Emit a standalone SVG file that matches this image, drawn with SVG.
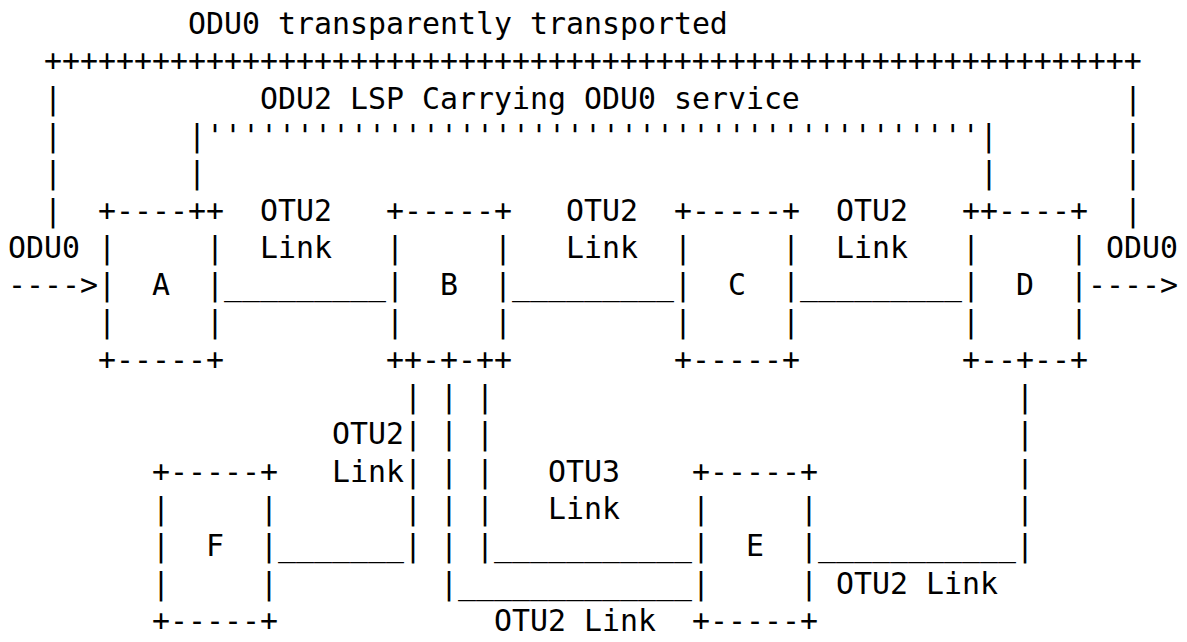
<svg xmlns="http://www.w3.org/2000/svg" width="1187" height="642" viewBox="0 0 1187 642">
<style>
text{font-family:"DejaVu Sans Mono","Liberation Mono",monospace;font-size:29.9px;fill:#000;white-space:pre}
</style>
<rect width="1187" height="642" fill="#fff"/>
<g id="title">
<text x="188" y="34">ODU0 transparently transported</text>
</g>
<g id="connectors">
<text x="44" y="71.3">+++++++++++++++++++++++++++++++++++++++++++++++++++++++++++++</text>
<text x="44" y="108.6">|</text><text x="1124" y="108.6">|</text>
<text x="260" y="108.6">ODU2 LSP Carrying ODU0 service</text>
<text x="44" y="145.9">|</text><text x="188" y="145.9">|'''''''''''''''''''''''''''''''''''''''''''|</text><text x="1124" y="145.9">|</text>
<text x="44" y="183.2">|</text><text x="188" y="183.2">|</text><text x="980" y="183.2">|</text><text x="1124" y="183.2">|</text>
<text x="44" y="220.5">|</text><text x="1124" y="220.5">|</text>
<text x="260" y="220.5">OTU2</text><text x="566" y="220.5">OTU2</text><text x="836" y="220.5">OTU2</text>
<text x="8" y="257.8">ODU0</text><text x="1106" y="257.8">ODU0</text>
<text x="260" y="257.8">Link</text><text x="566" y="257.8">Link</text><text x="836" y="257.8">Link</text>
<text x="8" y="295.1">----&gt;</text><text x="224" y="295.1">_________</text><text x="512" y="295.1">_________</text><text x="800" y="295.1">_________</text><text x="1088" y="295.1">----&gt;</text>
<text x="404" y="407">|</text><text x="440" y="407">|</text><text x="476" y="407">|</text><text x="1016" y="407">|</text>
<text x="332" y="444.3">OTU2|</text><text x="440" y="444.3">|</text><text x="476" y="444.3">|</text><text x="1016" y="444.3">|</text>
<text x="332" y="481.6">Link|</text><text x="440" y="481.6">|</text><text x="476" y="481.6">|</text><text x="548" y="481.6">OTU3</text><text x="1016" y="481.6">|</text>
<text x="404" y="518.9">|</text><text x="440" y="518.9">|</text><text x="476" y="518.9">|</text><text x="548" y="518.9">Link</text><text x="1016" y="518.9">|</text>
<text x="278" y="556.2">_______|</text><text x="440" y="556.2">|</text><text x="476" y="556.2">|___________</text><text x="818" y="556.2">___________|</text>
<text x="440" y="593.5">|_____________</text><text x="836" y="593.5">OTU2 Link</text>
<text x="494" y="630.8">OTU2 Link</text>
</g>
<g id="node-A">
<text x="98" y="220.5">+----++</text>
<text x="98" y="257.8">|     |</text>
<text x="98" y="295.1">|  A  |</text>
<text x="98" y="332.4">|     |</text>
<text x="98" y="369.7">+-----+</text>
</g>
<g id="node-B">
<text x="386" y="220.5">+-----+</text>
<text x="386" y="257.8">|     |</text>
<text x="386" y="295.1">|  B  |</text>
<text x="386" y="332.4">|     |</text>
<text x="386" y="369.7">++-+-++</text>
</g>
<g id="node-C">
<text x="674" y="220.5">+-----+</text>
<text x="674" y="257.8">|     |</text>
<text x="674" y="295.1">|  C  |</text>
<text x="674" y="332.4">|     |</text>
<text x="674" y="369.7">+-----+</text>
</g>
<g id="node-D">
<text x="962" y="220.5">++----+</text>
<text x="962" y="257.8">|     |</text>
<text x="962" y="295.1">|  D  |</text>
<text x="962" y="332.4">|     |</text>
<text x="962" y="369.7">+--+--+</text>
</g>
<g id="node-F">
<text x="152" y="481.6">+-----+</text>
<text x="152" y="518.9">|     |</text>
<text x="152" y="556.2">|  F  |</text>
<text x="152" y="593.5">|     |</text>
<text x="152" y="630.8">+-----+</text>
</g>
<g id="node-E">
<text x="692" y="481.6">+-----+</text>
<text x="692" y="518.9">|     |</text>
<text x="692" y="556.2">|  E  |</text>
<text x="692" y="593.5">|     |</text>
<text x="692" y="630.8">+-----+</text>
</g>
</svg>
